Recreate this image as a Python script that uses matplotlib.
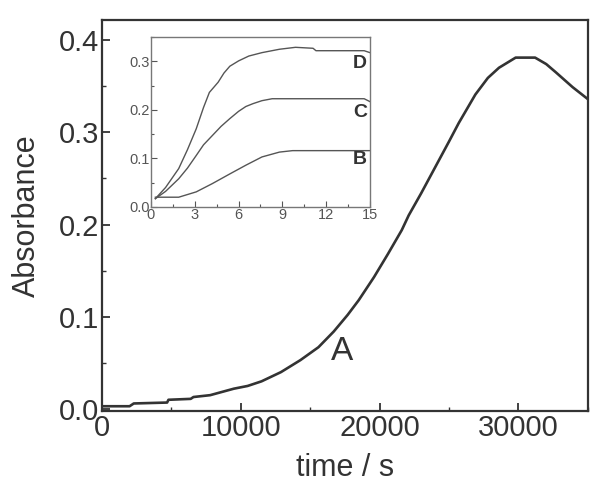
import numpy as np
import matplotlib.pyplot as plt
from matplotlib.ticker import MultipleLocator

plt.rcParams['font.family'] = ['Liberation Sans', 'DejaVu Sans']

# Main curve A: absorbance vs time (s)
time_a = [0, 2000, 2300, 4700, 4800, 6400, 6600, 7800, 9500, 10500, 11500, 12900,
          14300, 15600, 16700, 17700, 18500, 19600, 20600, 21600, 22100, 23000,
          24000, 25000, 25700, 26900, 27800, 28600, 29800, 31200, 32000, 32700,
          33900, 35000]
abs_a = [0.003, 0.003, 0.006, 0.007, 0.010, 0.011, 0.013, 0.015, 0.022, 0.025,
         0.030, 0.040, 0.053, 0.067, 0.084, 0.102, 0.118, 0.143, 0.168, 0.194,
         0.210, 0.234, 0.262, 0.290, 0.310, 0.341, 0.359, 0.370, 0.381, 0.381,
         0.374, 0.365, 0.349, 0.336]

# Inset curves B, C, D
t_d = [0.3, 1.0, 1.9, 2.5, 3.1, 3.6, 4.0, 4.6, 5.0, 5.4, 6.0, 6.7, 7.6, 8.8, 9.9, 11.1, 11.3, 14.0, 14.6, 15.0]
abs_d = [0.017, 0.040, 0.079, 0.118, 0.161, 0.205, 0.236, 0.257, 0.276, 0.290, 0.301, 0.311,
         0.318, 0.325, 0.329, 0.327, 0.322, 0.322, 0.322, 0.318]
t_c = [0.3, 1.0, 1.9, 2.5, 3.1, 3.6, 4.2, 4.8, 5.4, 6.0, 6.5, 7.0, 7.6, 8.3, 14.6, 15.0]
abs_c = [0.017, 0.032, 0.058, 0.080, 0.106, 0.128, 0.147, 0.166, 0.182, 0.197, 0.207,
         0.213, 0.219, 0.223, 0.223, 0.217]
t_b = [0.3, 1.0, 1.9, 3.1, 4.2, 5.4, 6.5, 7.6, 8.8, 9.7, 15.0]
abs_b = [0.020, 0.020, 0.020, 0.031, 0.048, 0.068, 0.086, 0.103, 0.113, 0.116, 0.116]

ink = '#333333'

fig = plt.figure(figsize=(5.92, 4.95), dpi=100)
ax = fig.add_axes([0.172, 0.170, 0.821, 0.790])
ax.plot(time_a, abs_a, color=ink, lw=1.9)
ax.set_xlim(0, 35000)
ax.set_ylim(-0.002, 0.422)
ax.xaxis.set_major_locator(MultipleLocator(10000))
ax.xaxis.set_minor_locator(MultipleLocator(5000))
ax.yaxis.set_major_locator(MultipleLocator(0.1))
ax.yaxis.set_minor_locator(MultipleLocator(0.05))
ax.yaxis.set_major_formatter(plt.FormatStrFormatter('%.1f'))
ax.tick_params(which='both', direction='in', colors=ink, labelsize=21, pad=2)
ax.tick_params(which='major', length=6, width=1.3)
ax.tick_params(which='minor', length=3, width=1.0)
for s in ax.spines.values():
    s.set_color(ink)
    s.set_linewidth(1.6)
ax.set_xlabel('time / s', fontsize=22, color=ink, labelpad=8)
ax.set_ylabel('Absorbance', fontsize=22, color=ink, labelpad=12)
ax.text(17300, 0.062, 'A', fontsize=24, color=ink, ha='center', va='center')

# inset
ins = fig.add_axes([0.255, 0.582, 0.370, 0.343])
gray = '#555555'
ins.plot(t_d, abs_d, color=gray, lw=1.0)
ins.plot(t_c, abs_c, color=gray, lw=1.0)
ins.plot(t_b, abs_b, color=gray, lw=1.0)
ins.set_xlim(0, 15)
ins.set_ylim(0, 0.35)
ins.xaxis.set_major_locator(MultipleLocator(3))
ins.xaxis.set_minor_locator(MultipleLocator(1.5))
ins.yaxis.set_major_locator(MultipleLocator(0.1))
ins.yaxis.set_minor_locator(MultipleLocator(0.05))
ins.yaxis.set_major_formatter(plt.FormatStrFormatter('%.1f'))
ins.tick_params(which='both', direction='in', colors=gray, labelsize=10.5, pad=1)
ins.tick_params(which='major', length=4, width=0.8)
ins.tick_params(which='minor', length=2, width=0.8)
for s in ins.spines.values():
    s.set_color('#777777')
    s.set_linewidth(1.0)
for lab, y in [('D', 0.295), ('C', 0.195), ('B', 0.098)]:
    ins.text(14.8, y, lab, fontsize=14, fontweight='bold', color=ink,
             ha='right', va='center')

fig.savefig('out.png', dpi=100)
